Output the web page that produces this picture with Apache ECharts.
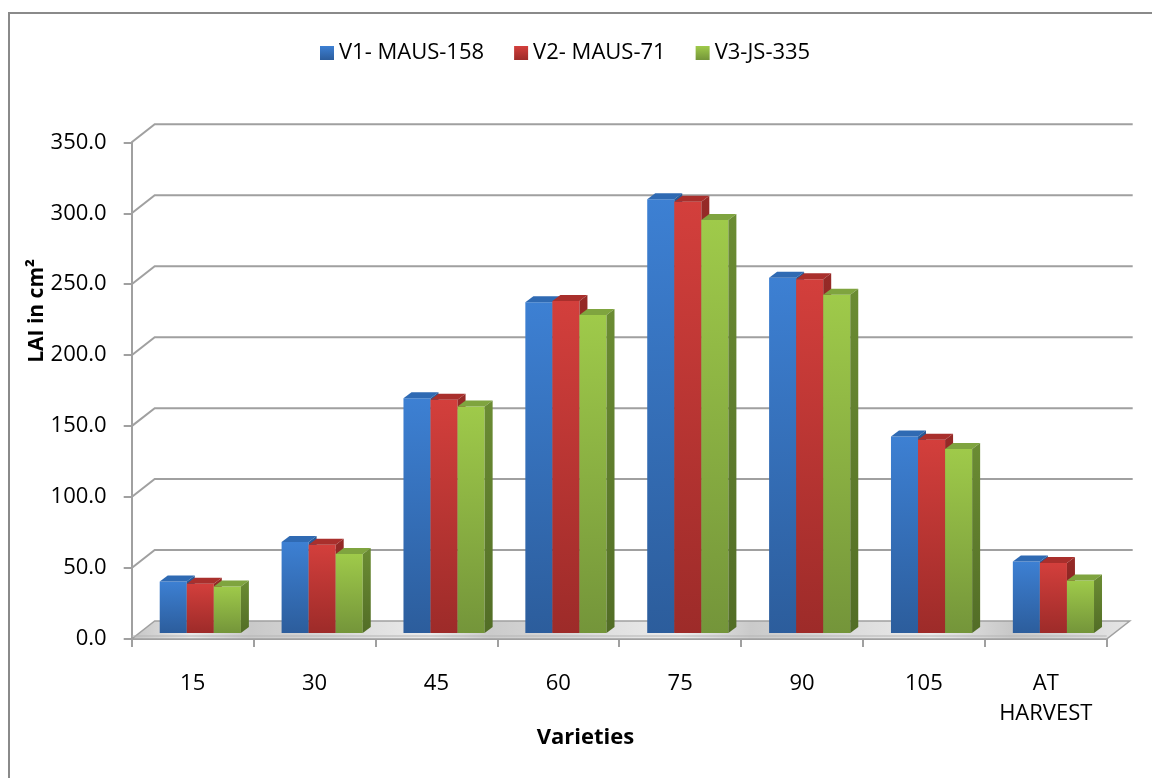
<!DOCTYPE html>
<html>
<head>
<meta charset="utf-8">
<script src="https://cdn.jsdelivr.net/npm/echarts@6/dist/echarts.min.js"></script>
<style>
  html, body { margin: 0; padding: 0; background: #ffffff; }
  #chart { width: 1152px; height: 778px; }
</style>
</head>
<body>
<div id="chart"></div>
<script>
// ---------- data ----------
const categories = ['15', '30', '45', '60', '75', '90', '105', 'AT\nHARVEST'];
const seriesNames = ['V1- MAUS-158', 'V2- MAUS-71', 'V3-JS-335'];
const v1 = [36.3, 64.1, 165.5, 233.0, 305.6, 250.4, 138.4, 50.4];
const v2 = [34.7, 62.2, 164.3, 234.0, 303.9, 249.3, 136.2, 49.3];
const v3 = [32.8, 55.6, 159.6, 224.0, 291.0, 238.3, 129.6, 37.0];
const yTicks = [0, 50, 100, 150, 200, 250, 300, 350];
const yAxisTitle = 'LAI in cm²';
const xAxisTitle = 'Varieties';

// ---------- styling ----------
const FONT = '"Open Sans", "Liberation Sans", sans-serif';
const WALL_DX = 23, WALL_DY = 18;     // depth of the 3D box
const BAR_DX = 8, BAR_DY = 6;         // depth of each column
const FRONT_DEPTH = 1 / 3;            // columns sit at 1/3 of box depth
const palettes = [
  { front: ['#3d80d3', '#2c5d9c'], top: '#2f6ab3', side: ['#285a98', '#1f4577'] },
  { front: ['#d33f3c', '#9d2b29'], top: '#a92f2c', side: ['#962a27', '#7a1f1d'] },
  { front: ['#9fca4a', '#74953a'], top: '#7fa43f', side: ['#6b8c33', '#526d26'] }
];
const gridColor = '#a0a0a0';

function vgrad(c) {
  return new echarts.graphic.LinearGradient(0, 0, 0, 1, [
    { offset: 0, color: c[0] }, { offset: 1, color: c[1] }
  ]);
}

function barRenderer(sIdx) {
  const pal = palettes[sIdx];
  return function (params, api) {
    const cat = api.value(0), val = api.value(1);
    const band = api.size([1, 0])[0];
    const base = api.coord([cat, 0]);
    const top = api.coord([cat, val]);
    const bw = band * 0.222;
    const offX = WALL_DX * FRONT_DEPTH, offY = WALL_DY * FRONT_DEPTH;
    const x0 = base[0] - 1.5 * bw + sIdx * bw + offX;
    const x1 = x0 + bw;
    const yb = base[1] - offY;
    const yt = top[1] - offY;
    return {
      type: 'group',
      children: [
        { type: 'rect', shape: { x: x0, y: yt, width: bw, height: yb - yt },
          style: { fill: vgrad(pal.front) } },
        { type: 'polygon', shape: { points: [[x0, yt], [x1, yt], [x1 + BAR_DX, yt - BAR_DY], [x0 + BAR_DX, yt - BAR_DY]] },
          style: { fill: pal.top } },
        { type: 'polygon', shape: { points: [[x1, yt], [x1 + BAR_DX, yt - BAR_DY], [x1 + BAR_DX, yb - BAR_DY], [x1, yb]] },
          style: { fill: vgrad(pal.side) } }
      ]
    };
  };
}

function wallRenderer(params, api) {
  const cs = params.coordSys;
  const val = api.value(1);
  const p = api.coord([0, val]);
  const xl = cs.x, xr = cs.x + cs.width;
  const y = p[1];
  if (val === 0) {
    const floorGrad = new echarts.graphic.LinearGradient(0, 0, 1, 0, [
      { offset: 0, color: '#c4c4c4' }, { offset: 0.06, color: '#e9e9e9' },
      { offset: 0.12, color: '#c9c9c9' }, { offset: 0.3, color: '#ebebeb' },
      { offset: 0.36, color: '#cbcbcb' }, { offset: 0.55, color: '#ececec' },
      { offset: 0.62, color: '#cacaca' }, { offset: 0.8, color: '#eaeaea' },
      { offset: 0.88, color: '#c8c8c8' }, { offset: 1, color: '#e6e6e6' }
    ]);
    return {
      type: 'group',
      children: [
        { type: 'polygon', shape: { points: [[xl, y], [xr, y], [xr + WALL_DX, y - WALL_DY], [xl + WALL_DX, y - WALL_DY]] },
          style: { fill: floorGrad, stroke: gridColor, lineWidth: 1.5 } },
        { type: 'line', shape: { x1: xl, y1: y - 3, x2: xr, y2: y - 3 },
          style: { stroke: '#b5b5b5', lineWidth: 1 } }
      ]
    };
  }
  return {
    type: 'polyline',
    shape: { points: [[xl, y], [xl + WALL_DX, y - WALL_DY], [xr + WALL_DX + 3, y - WALL_DY]] },
    style: { stroke: gridColor, lineWidth: 2, fill: null }
  };
}

const chart = echarts.init(document.getElementById('chart'), null, { renderer: 'canvas' });

const valueLists = [v1, v2, v3];
const barSeries = valueLists.map((vals, s) => ({
  name: seriesNames[s],
  type: 'custom',
  renderItem: barRenderer(s),
  encode: { x: 0, y: 1 },
  data: vals.map((v, i) => [i, v]),
  itemStyle: { color: vgrad(palettes[s].front) },
  z: 5
}));

const option = {
  backgroundColor: '#ffffff',
  animation: false,
  textStyle: { fontFamily: FONT },
  legend: {
    data: seriesNames.map(n => ({ name: n, icon: 'rect' })),
    left: 315,
    top: 37,
    itemWidth: 14,
    itemHeight: 14,
    itemGap: 30,
    textStyle: { fontSize: 22, color: '#000', fontFamily: FONT }
  },
  grid: { left: 131.7, right: 45.3, top: 142.3, bottom: 139 },
  xAxis: {
    type: 'category',
    data: categories,
    axisLine: { show: true, lineStyle: { color: gridColor, width: 2 } },
    axisTick: { show: true, interval: 0, length: 8, lineStyle: { color: gridColor, width: 2 } },
    axisLabel: { interval: 0, margin: 30, fontSize: 22, lineHeight: 30, color: '#000', fontFamily: FONT },
    splitLine: { show: false }
  },
  yAxis: {
    type: 'value',
    min: 0,
    max: 350,
    interval: 50,
    axisLine: { show: true, lineStyle: { color: gridColor, width: 2 } },
    axisTick: { show: true, length: 8, lineStyle: { color: gridColor, width: 2 } },
    axisLabel: { margin: 25, fontSize: 22, color: '#000', fontFamily: FONT,
                 formatter: v => v.toFixed(1) },
    splitLine: { show: false }
  },
  graphic: [
    { type: 'rect', silent: true, shape: { x: 9, y: 13, width: 1300, height: 900 },
      style: { fill: null, stroke: '#8a8a8a', lineWidth: 2 } },
    { type: 'text', left: 27, top: 259, silent: true, rotation: Math.PI / 2,
      style: { text: yAxisTitle, fontSize: 21, fontWeight: 'bold', fill: '#000', fontFamily: FONT } },
    { type: 'text', silent: true, x: 585.5, y: 738,
      style: { text: xAxisTitle, fontSize: 22, fontWeight: 'bold', fill: '#000', fontFamily: FONT,
               align: 'center', verticalAlign: 'middle' } }
  ],
  series: [
    {
      name: 'wall',
      type: 'custom',
      silent: true,
      renderItem: wallRenderer,
      encode: { x: 0, y: 1 },
      data: yTicks.map(v => [0, v]),
      z: 1
    }
  ].concat(barSeries)
};

chart.setOption(option);
</script>
</body>
</html>
